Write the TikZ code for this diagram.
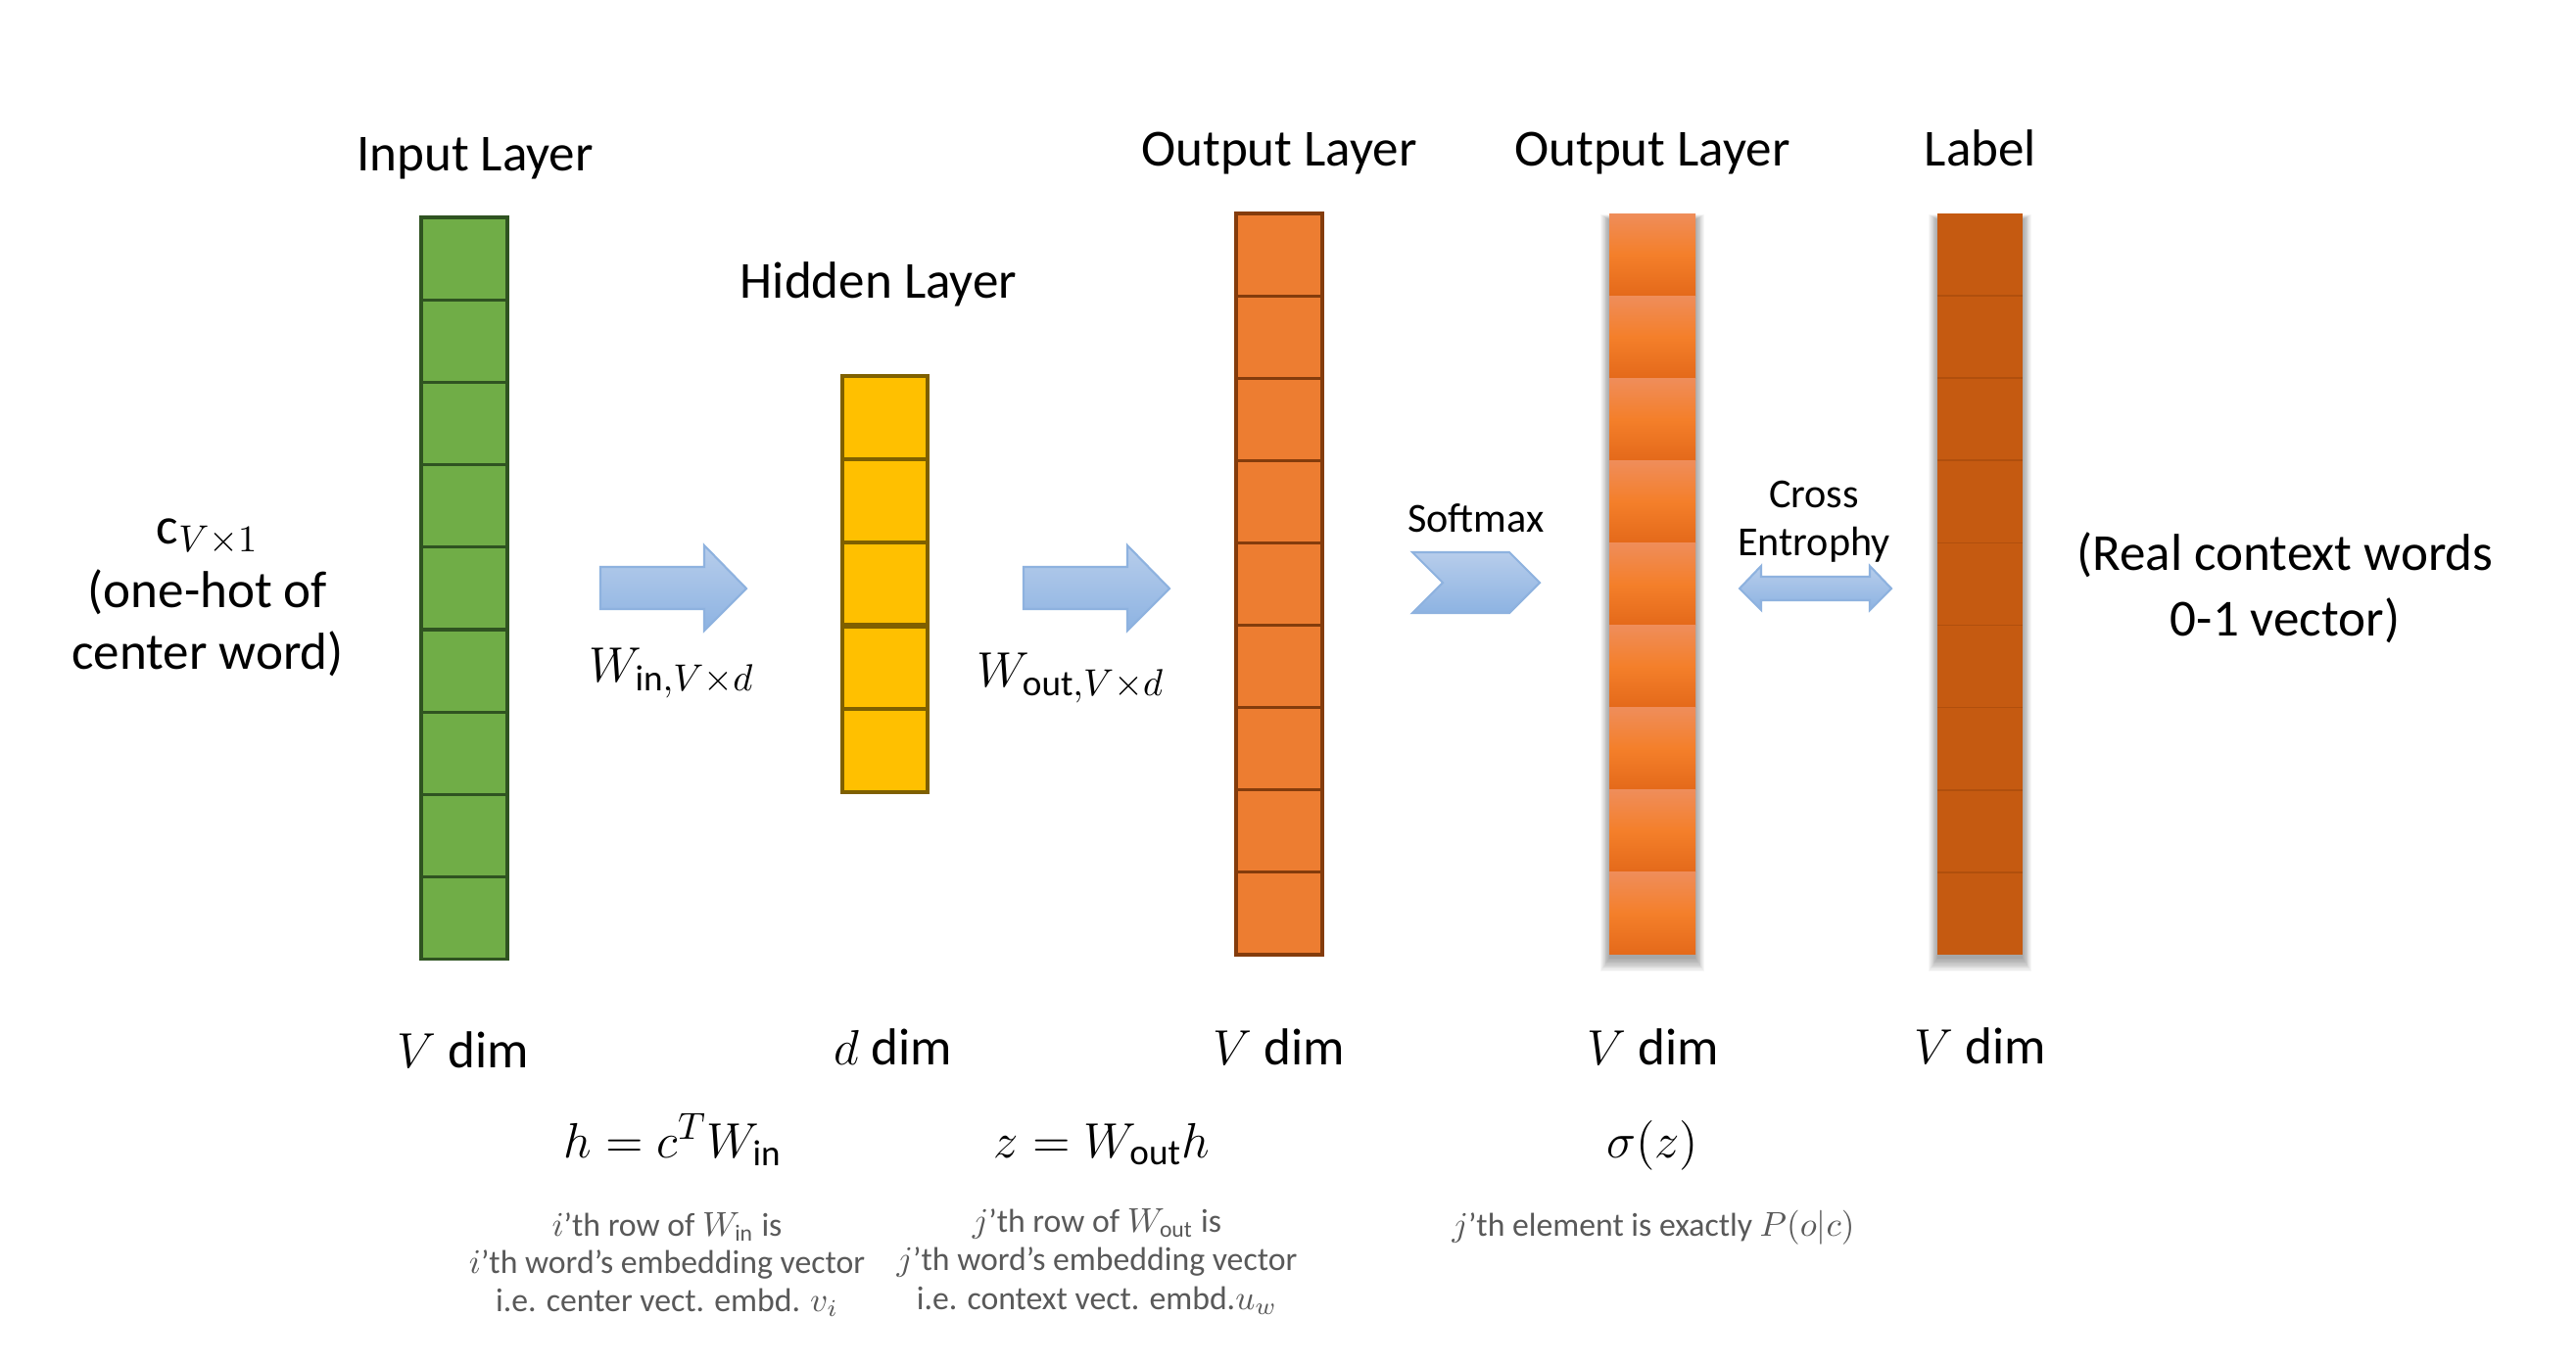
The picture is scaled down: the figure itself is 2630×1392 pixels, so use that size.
\documentclass[tikz,border=0pt]{standalone}
\usepackage{fontspec}
\setmainfont{Carlito}
\definecolor{grnF}{HTML}{70AD47}
\definecolor{grnD}{HTML}{2F5321}
\definecolor{yelF}{HTML}{FFC000}
\definecolor{yelD}{HTML}{7F6000}
\definecolor{orF}{HTML}{ED7D31}
\definecolor{orD}{HTML}{843C0C}
\definecolor{gTop}{HTML}{EF8D5A}
\definecolor{gMid}{HTML}{F47F2A}
\definecolor{gBot}{HTML}{E4691A}
\definecolor{labF}{HTML}{C55A11}
\definecolor{labD}{HTML}{B04F0D}
\definecolor{arTop}{HTML}{B7CDEB}
\definecolor{arBot}{HTML}{8DB3E2}
\definecolor{arLn}{HTML}{8EB2DF}
\definecolor{grayT}{HTML}{595959}
\tikzset{
  big/.style={font=\fontsize{15.1}{18}\selectfont, inner sep=0pt, anchor=base},
  mid/.style={font=\fontsize{12}{14}\selectfont, inner sep=0pt, anchor=base},
  small/.style={font=\fontsize{9.6}{11.5}\selectfont, inner sep=0pt, anchor=base, text=grayT},
  blockarrow/.style={top color=arTop, bottom color=arBot, draw=arLn, line width=0.6pt},
}
\begin{document}
\begin{tikzpicture}[x=0.1mm,y=-0.1mm]
\useasboundingbox (0,0) rectangle (2630,1392);
\fill[white] (0,0) rectangle (2630,1392);

% ---------------- titles
\node[big] (tIn)   at (485,174) {Input Layer};
\node[big] (tHid)  at (897,304) {Hidden Layer};
\node[big] (tOut1) at (1306,169) {Output Layer};
\node[big] (tOut2) at (1687,169) {Output Layer};
\node[big] (tLab)  at (2022,169) {Label};

% ---------------- input column (green)
\foreach \i in {0,...,8}{
  \draw[fill=grnF, draw=grnD, line width=0.9pt] (430,{222+\i*84.2}) rectangle (518,{222+(\i+1)*84.2});
}
% ---------------- hidden column (yellow)
\foreach \i in {0,...,4}{
  \draw[fill=yelF, draw=yelD, line width=0.9pt] (860,{384+\i*85}) rectangle (947,{384+(\i+1)*85});
}
\draw[yelD, line width=1.5pt] (860,639) -- (947,639);
% ---------------- output column 1 (orange)
\foreach \i in {0,...,8}{
  \draw[fill=orF, draw=orD, line width=0.9pt] (1262,{218+\i*84.1}) rectangle (1350,{218+(\i+1)*84.1});
}
% ---------------- output column 2 (softmax, shaded)
\foreach \k in {0,...,10}{
  \fill[black, opacity=0.035] ({1643-\k*0.9},{224-\k*0.5}) rectangle ({1731+\k*0.9},{979+\k*1.3});
}
\foreach \i in {0,...,8}{
  \shade[top color=gTop, bottom color=gBot, middle color=gMid] (1643,{218+\i*84.1}) rectangle (1731,{218+(\i+1)*84.1});
}
% ---------------- label column
\foreach \k in {0,...,10}{
  \fill[black, opacity=0.035] ({1978-\k*0.9},{224-\k*0.5}) rectangle ({2065+\k*0.9},{979+\k*1.3});
}
\fill[labF] (1978,218) rectangle (2065,975);
\foreach \i in {1,...,8}{
  \draw[labD, line width=0.5pt] (1978,{218+\i*84.1}) -- (2065,{218+\i*84.1});
}

% ---------------- left description
\node[big] (cVec) at (212,555) {c$_{V\times 1}$};
\node[big] (cL2)  at (212,620) {(one-hot of};
\node[big] (cL3)  at (212,683) {center word)};

% ---------------- block arrows
\shadedraw[blockarrow] (613,579) -- (719,579) -- (719,557) -- (762,601) -- (719,644) -- (719,622) -- (613,622) -- cycle;
\shadedraw[blockarrow] (1045,579) -- (1151,579) -- (1151,557) -- (1194,601) -- (1151,644) -- (1151,622) -- (1045,622) -- cycle;
\node[big] (wIn)  at (686,696) {$W_{\mathrm{in},V\times d}$};
\node[big] (wOut) at (1093,701) {$W_{\mathrm{out},V\times d}$};

% softmax chevron
\shadedraw[blockarrow] (1442,564) -- (1541,564) -- (1572,595) -- (1541,626) -- (1442,626) -- (1473,595) -- cycle;
\node[mid] (sm) at (1507,543) {Softmax};

% cross entropy double arrow
\shadedraw[blockarrow] (1776,601) -- (1798,578) -- (1798,589) -- (1909,589) -- (1909,578) -- (1931,601) -- (1909,623) -- (1909,613) -- (1798,613) -- (1798,623) -- cycle;
\node[mid] (ce1) at (1852,518) {Cross};
\node[mid] (ce2) at (1852,567) {Entrophy};

% right description
\node[big] (rc1) at (2333,582) {(Real context words};
\node[big] (rc2) at (2333,649) {0-1 vector)};

% ---------------- dims
\node[big] (d1) at (473,1090) {$V$ dim};
\node[big] (d2) at (912,1087) {$d$ dim};
\node[big] (d3) at (1306,1087) {$V$ dim};
\node[big] (d4) at (1688,1087) {$V$ dim};
\node[big] (d5) at (2022,1086) {$V$ dim};

% ---------------- formulas
\node[big] (f1) at (687,1182) {$h = c^{T}W_{\mathrm{in}}$};
\node[big] (f2) at (1125,1182) {$z = W_{\mathrm{out}}h$};
\node[big] (f3) at (1687,1182) {$\sigma(z)$};

% ---------------- notes
\node[small] (n11) at (681,1262) {$i$’th row of $W_{\mathrm{in}}$ is};
\node[small] (n12) at (681,1300) {$i$’th word’s embedding vector};
\node[small] (n13) at (681,1339) {i.e. center vect. embd. $v_i$};
\node[small] (n21) at (1120,1258) {$j$’th row of $W_{\mathrm{out}}$ is};
\node[small] (n22) at (1120,1297) {$j$’th word’s embedding vector};
\node[small] (n23) at (1120,1337) {i.e. context vect. embd.$u_w$};
\node[small] (n31) at (1688,1262) {$j$’th element is exactly $P(o|c)$};
\end{tikzpicture}
\end{document}
